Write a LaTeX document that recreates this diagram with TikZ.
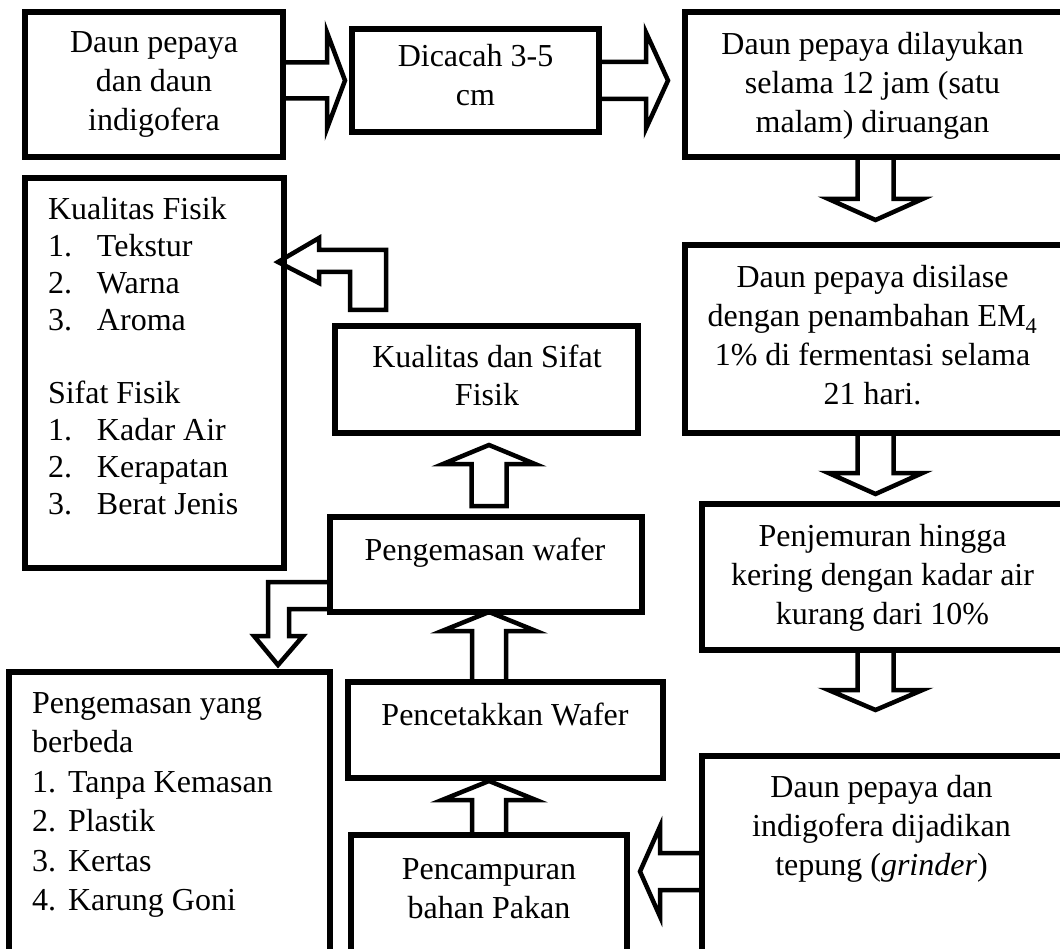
\documentclass[tikz,border=0pt]{standalone}
\usepackage{fontspec}
\setmainfont{Liberation Serif}
\usetikzlibrary{calc}
\tikzset{
  box/.style={draw, line width=5.5pt, outer sep=0pt, inner sep=0pt, anchor=north west},
  arr/.style={draw, line width=4.5pt, line join=miter},
  txt/.style={inner sep=0pt, outer sep=0pt, anchor=base, font=\fontsize{32}{39}\selectfont},
  ltxt/.style={inner sep=0pt, outer sep=0pt, anchor=base west},
}
\newcommand\ctext[1]{\parbox[t]{420pt}{\centering #1}}
\newcommand\ltext[1]{\parbox[t]{300pt}{\raggedright #1}}
% #1 tail, #2 tip, #3 shaft half width, #4 head half width, #5 head length
\newcommand\blockarrow[5]{%
  \coordinate (hb) at ($(#2)!#5!(#1)$);
  \draw[arr] ($(#1)!#3!90:(#2)$) -- ($(hb)!#3!90:(#2)$) -- ($(hb)!#4!90:(#2)$) -- (#2)
    -- ($(hb)!#4!-90:(#2)$) -- ($(hb)!#3!-90:(#2)$) -- ($(#1)!#3!-90:(#2)$) -- cycle;
}
\begin{document}
\begin{tikzpicture}[x=1pt,y=-1pt]
\useasboundingbox (0,0) rectangle (1060,949);
\fill[white] (0,0) rectangle (1060,949);
\clip (0,0) rectangle (1060,949);

% boxes
\node[box, minimum width=258pt, minimum height=145pt] (b1) at (25,12) {};
\node[box, minimum width=247pt, minimum height=103pt] (b2) at (352,29) {};
\node[box, minimum width=381pt, minimum height=145pt] (b3) at (685,12) {};
\node[box, minimum width=381pt, minimum height=188pt] (b4) at (685,245) {};
\node[box, minimum width=364pt, minimum height=146pt] (b5) at (702,504) {};
\node[box, minimum width=364pt, minimum height=231pt] (b6) at (702,756) {};
\node[box, minimum width=276pt, minimum height=160pt] (b7) at (351,835) {};
\node[box, minimum width=315pt, minimum height=96pt] (b8) at (348,682) {};
\node[box, minimum width=312pt, minimum height=95pt] (b9) at (330,517) {};
\node[box, minimum width=303pt, minimum height=107pt] (b10) at (335,326) {};
\node[box, minimum width=259pt, minimum height=390pt] (b11) at (25,178) {};
\node[box, minimum width=321pt, minimum height=323pt] (b12) at (9,672) {};

% texts
\node[txt] (t1) at (154,53) {\ctext{Daun pepaya\\dan daun\\indigofera}};
\node[txt] (t2) at (475.5,67) {\ctext{Dicacah 3-5\\cm}};
\node[txt] (t3) at (872.5,55) {\ctext{Daun pepaya dilayukan\\selama 12 jam (satu\\malam) diruangan}};
\node[txt] (t4) at (872.5,288) {\ctext{Daun pepaya disilase\\dengan penambahan EM\textsubscript{4}\\1\% di fermentasi selama\\21 hari.}};
\node[txt] (t5) at (882.5,546) {\ctext{Penjemuran hingga\\kering dengan kadar air\\kurang dari 10\%}};
\node[txt] (t6) at (881.5,797) {\ctext{Daun pepaya dan\\indigofera dijadikan\\tepung (\textit{grinder})}};
\node[txt] (t7) at (489,879) {\ctext{Pencampuran\\bahan Pakan}};
\node[txt] (t8) at (505,725) {\ctext{Pencetakkan Wafer}};
\node[txt] (t9) at (485,560) {\ctext{Pengemasan wafer}};
\node[txt] (t10) at (487,367) {\ctext{Kualitas dan Sifat\\Fisik}};
\node[ltxt, font=\fontsize{32}{37}\selectfont] (t11) at (48,220) {\ltext{Kualitas Fisik\\
  \makebox[49pt][l]{1.}Tekstur\\
  \makebox[49pt][l]{2.}Warna\\
  \makebox[49pt][l]{3.}Aroma\\[36pt]
  Sifat Fisik\\
  \makebox[49pt][l]{1.}Kadar Air\\
  \makebox[49pt][l]{2.}Kerapatan\\
  \makebox[49pt][l]{3.}Berat Jenis}};
\node[ltxt, font=\fontsize{32}{39.5}\selectfont] (t12) at (32,713) {\ltext{Pengemasan yang\\
  berbeda\\
  \makebox[36pt][l]{1.}Tanpa Kemasan\\
  \makebox[36pt][l]{2.}Plastik\\
  \makebox[36pt][l]{3.}Kertas\\
  \makebox[36pt][l]{4.}Karung Goni}};

% straight block arrows
\coordinate (a1s) at (b1.east |- b2.west);
\coordinate (a1e) at ($(b2.west)+(-7,0)$);
\blockarrow{a1s}{a1e}{18pt}{48pt}{18pt}
\coordinate (a2s) at (b2.east);
\coordinate (a2e) at ($(b3.west |- b2.east)+(-17,0)$);
\blockarrow{a2s}{a2e}{18.5pt}{48pt}{22pt}
\coordinate (a3s) at (b3.south);
\coordinate (a3e) at ($(b3.south)+(0,63)$);
\blockarrow{a3s}{a3e}{18pt}{47pt}{21pt}
\coordinate (a4s) at (b4.south);
\coordinate (a4e) at ($(b4.south)+(0,61)$);
\blockarrow{a4s}{a4e}{18pt}{47pt}{21pt}
\coordinate (a5s) at (b5.south -| b4.south);
\coordinate (a5e) at ($(a5s)+(0,60)$);
\blockarrow{a5s}{a5e}{18pt}{47pt}{20pt}
\coordinate (a6s) at (b6.west);
\coordinate (a6e) at ($(b7.east |- b6.west)+(13,0)$);
\blockarrow{a6s}{a6e}{18.5pt}{45pt}{20pt}
\coordinate (a7s) at (b7.north);
\coordinate (a7e) at ($(b7.north |- b8.south)+(0,3)$);
\blockarrow{a7s}{a7e}{17pt}{47pt}{19pt}
\coordinate (a8s) at (b8.north -| b7.north);
\coordinate (a8e) at (b9.south -| b7.north);
\blockarrow{a8s}{a8e}{17pt}{47pt}{19pt}
\coordinate (a9s) at ($(b9.north -| b7.north)+(0,-11)$);
\coordinate (a9e) at ($(b10.south -| b7.north)+(0,12)$);
\blockarrow{a9s}{a9e}{17.5pt}{46pt}{19pt}

% bent arrow: Kualitas dan Sifat Fisik -> list box
\coordinate (k1) at ($(b10.north west)+(33,-16)$);
\draw[arr] ($(k1)+(-18,0)$) -- ++(0,-38) -- ++(-31,0) -- ++(0,11) -- ++(-41,-21)
  -- ++(41,-24) -- ++(0,12) -- ++(67,0) -- ++(0,60) -- cycle;

% bent arrow: Pengemasan wafer -> Pengemasan yang berbeda
\coordinate (k2) at ($(b9.north west)+(0,65)$);
\draw[arr] (k2) -- ++(-62,0) -- ++(0,54) -- ++(-14,0) -- ++(24,29) -- ++(25,-29)
  -- ++(-14,0) -- ++(0,-27) -- ++(41,0) -- cycle;
\end{tikzpicture}
\end{document}
